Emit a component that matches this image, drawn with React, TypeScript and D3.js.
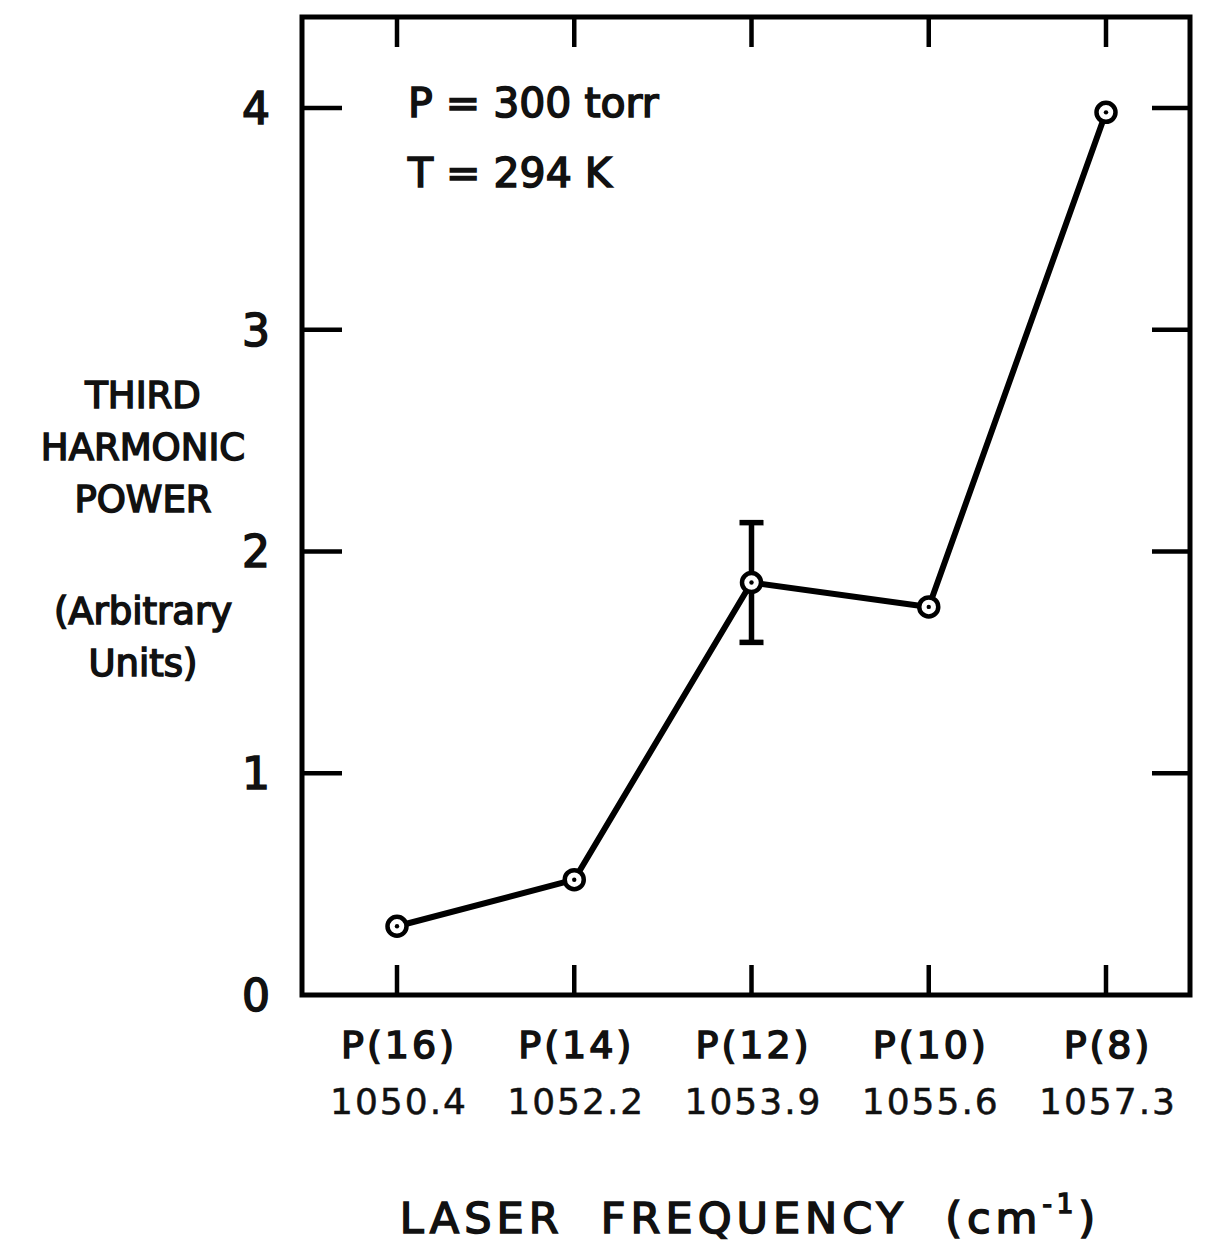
import React from "react";
import * as d3 from "d3";

const lines = ["P(16)", "P(14)", "P(12)", "P(10)", "P(8)"];
const freqs = ["1050.4", "1052.2", "1053.9", "1055.6", "1057.3"];
const power = [0.31, 0.52, 1.86, 1.75, 3.98];
// error bar only on P(12)
const errLow = [null, null, 1.59, null, null];
const errHigh = [null, null, 2.13, null, null];
const yTicks = [0, 1, 2, 3, 4];
const yLabel = ["THIRD", "HARMONIC", "POWER", "", "(Arbitrary", "Units)"];

const W = 1206;
const H = 1247;
const frame = {left: 302, right: 1190, top: 17, bottom: 995};
const font = "'DejaVu Sans', 'Liberation Sans', sans-serif";

const App: React.FC = () => {
	const x = d3.scalePoint<string>().domain(lines).range([397, 1106]);
	const y = d3
		.scaleLinear()
		.domain([0, 4.41])
		.range([frame.bottom, frame.top]);

	const line = d3
		.line<number>()
		.x((_, i) => x(lines[i]) as number)
		.y((d) => y(d));

	const txt = {
		fontFamily: font,
		fill: "#111",
		stroke: "#111",
		strokeWidth: 1.6,
	} as React.CSSProperties;

	return (
		<svg
			width={W}
			height={H}
			style={{position: "absolute", left: 0, top: 0, background: "#fff"}}
		>
			{/* frame */}
			<rect
				x={frame.left}
				y={frame.top}
				width={frame.right - frame.left}
				height={frame.bottom - frame.top}
				fill="none"
				stroke="#000"
				strokeWidth={5}
			/>

			{/* top / bottom ticks */}
			{lines.map((c) => (
				<g key={c}>
					<line
						x1={x(c)}
						x2={x(c)}
						y1={frame.top}
						y2={frame.top + 30}
						stroke="#000"
						strokeWidth={4.5}
					/>
					<line
						x1={x(c)}
						x2={x(c)}
						y1={frame.bottom}
						y2={frame.bottom - 30}
						stroke="#000"
						strokeWidth={4.5}
					/>
				</g>
			))}

			{/* left / right ticks */}
			{yTicks.map((t) => (
				<g key={t}>
					{t > 0 && (
						<>
							<line
								x1={frame.left}
								x2={frame.left + 40}
								y1={y(t)}
								y2={y(t)}
								stroke="#000"
								strokeWidth={4.5}
							/>
							<line
								x1={frame.right}
								x2={frame.right - 38}
								y1={y(t)}
								y2={y(t)}
								stroke="#000"
								strokeWidth={4.5}
							/>
						</>
					)}
					<text
						x={256}
						y={y(t) + 16}
						textAnchor="middle"
						fontSize={44}
						style={txt}
					>
						{t}
					</text>
				</g>
			))}

			{/* data line */}
			<path
				d={line(power) || ""}
				fill="none"
				stroke="#000"
				strokeWidth={6}
				strokeLinejoin="round"
			/>

			{/* error bars */}
			{power.map((_, i) =>
				errLow[i] != null && errHigh[i] != null ? (
					<g key={"e" + i} stroke="#000" strokeWidth={5.5}>
						<line
							x1={x(lines[i])}
							x2={x(lines[i])}
							y1={y(errLow[i] as number)}
							y2={y(errHigh[i] as number)}
						/>
						<line
							x1={(x(lines[i]) as number) - 12}
							x2={(x(lines[i]) as number) + 12}
							y1={y(errHigh[i] as number)}
							y2={y(errHigh[i] as number)}
						/>
						<line
							x1={(x(lines[i]) as number) - 12}
							x2={(x(lines[i]) as number) + 12}
							y1={y(errLow[i] as number)}
							y2={y(errLow[i] as number)}
						/>
					</g>
				) : null
			)}

			{/* markers */}
			{power.map((d, i) => (
				<g key={"m" + i}>
					<circle
						cx={x(lines[i])}
						cy={y(d)}
						r={9.5}
						fill="#fff"
						stroke="#000"
						strokeWidth={4.5}
					/>
					<circle cx={x(lines[i])} cy={y(d)} r={2.2} fill="#000" />
				</g>
			))}

			{/* category labels */}
			{lines.map((c, i) => (
				<g key={"l" + c}>
					<text
						x={(x(c) as number) + 2}
						y={1058}
						textAnchor="middle"
						fontSize={38}
						letterSpacing={3}
						style={txt}
					>
						{c}
					</text>
					<text
						x={(x(c) as number) + 2}
						y={1114}
						textAnchor="middle"
						fontSize={36}
						letterSpacing={2}
						style={{...txt, strokeWidth: 0.5}}
					>
						{freqs[i]}
					</text>
				</g>
			))}

			{/* annotation */}
			<text x={408} y={117} fontSize={41} style={txt}>
				P = 300 torr
			</text>
			<text x={408} y={187} fontSize={41} style={txt}>
				T = 294 K
			</text>

			{/* y axis title */}
			{yLabel.map((s, i) =>
				s ? (
					<text
						key={"y" + i}
						x={143}
						y={408 + i * 52 + (i >= 4 ? 8 : 0)}
						textAnchor="middle"
						fontSize={37}
						style={txt}
					>
						{s}
					</text>
				) : null
			)}

			{/* x axis title */}
			<text
				x={750}
				y={1233}
				textAnchor="middle"
				fontSize={43}
				letterSpacing={5}
				style={txt}
				xmlSpace="preserve"
			>
				{"LASER  FREQUENCY  (cm"}
				<tspan fontSize={26} dy={-20}>
					-1
				</tspan>
				<tspan dy={20}>)</tspan>
			</text>
		</svg>
	);
};

export default App;
